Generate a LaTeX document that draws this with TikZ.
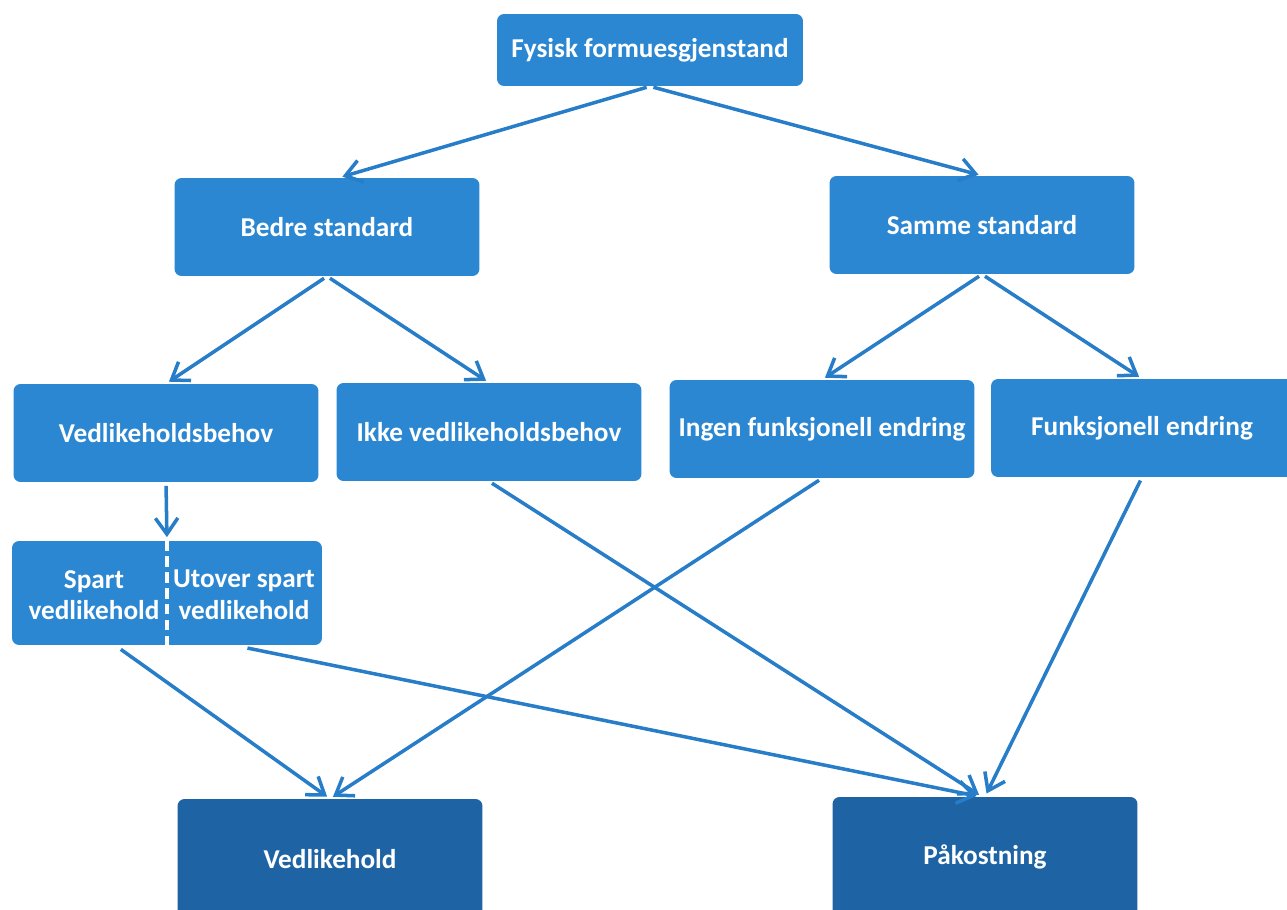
\documentclass[tikz,border=0pt]{standalone}
\usepackage{fontspec}
\setmainfont{Carlito}
\usepackage{xcolor}
\usepackage{tikz}
\usetikzlibrary{calc, arrows.meta}

\definecolor{lightblue}{RGB}{43,135,210}
\definecolor{darkblue}{RGB}{30,100,165}
\definecolor{arrowblue}{RGB}{40,125,200}

\tikzset{
	box/.style = {fill = lightblue, rounded corners = 4pt, text = white, align = center,
		font = \fontsize{15.5}{20}\selectfont\bfseries, minimum width = 6.1cm, minimum height = 1.96cm, inner sep = 0pt},
	endbox/.style = {box, fill = darkblue, minimum height = 2.4cm},
	half/.style = {text = white, align = center, font = \fontsize{15.5}{18}\selectfont\bfseries,
		minimum width = 3.1cm, minimum height = 2.08cm, inner sep = 0pt}
}

\begin{document}
\begin{tikzpicture}[x = 0.02cm, y = -0.02cm]
		\useasboundingbox (0,0) rectangle (1287,909);
		
		\node [box, minimum height = 1.44cm, minimum width = 6.12cm] (gjenstand) at (650,50) {Fysisk formuesgjenstand};
		
		\node [box] (bedre) at (327,227) {Bedre standard};
		\node [box] (samme) at (982,225) {Samme standard};
		
		\node [box] (behov) at (166,433) {Vedlikeholdsbehov};
		\node [box] (ikke) at (489,432) {Ikke vedlikeholdsbehov};
		\node [box] (ingen) at (822,429) {Ingen funksjonell endring};
		\node [box, minimum width = 6.04cm] (funksjonell) at (1142,428) {Funksjonell endring};
		
		\node [box, minimum width = 6.2cm, minimum height = 2.08cm] (spartboks) at (167,593) {};
		\node [half] (spart) at (94,595) {Spart\\vedlikehold};
		\node [half] (utover) at (244,595) {Utover spart\\vedlikehold};
		\draw [white, line width = 2pt, dash pattern = on 6pt off 3pt] (spartboks.north) -- (spartboks.south);
		
		\node [endbox] (vedlikehold) at (330,859) {Vedlikehold};
		\node [endbox] (pakostning) at (985,857) {Påkostning};
		
		\begin{scope}[arrowblue, line width = 2pt, -{Straight Barb[length = 3.2mm, width = 4.5mm]}, shorten > = 2pt, shorten < = 2pt]
		\draw (gjenstand.south) -- ($(bedre.north) + (12,0)$);
		\draw (gjenstand.south) -- (samme.north);
		
		\draw (bedre.south) -- (behov.north);
		\draw (bedre.south) -- (ikke.north);
		\draw (samme.south) -- (ingen.north);
		\draw (samme.south) -- (funksjonell.north);
		
		\draw (behov.south) -- (spartboks.north);
		
		\draw ($(spart.south) + (24,0)$) -- (vedlikehold.north);
		\draw (ingen.south) -- (vedlikehold.north);
		\draw (utover.south) -- ($(pakostning.north) + (-5,0)$);
		\draw (ikke.south) -- ($(pakostning.north) + (-3,0)$);
		\draw (funksjonell.south) -- (pakostning.north);
		\end{scope}
	\end{tikzpicture}
\end{document}
